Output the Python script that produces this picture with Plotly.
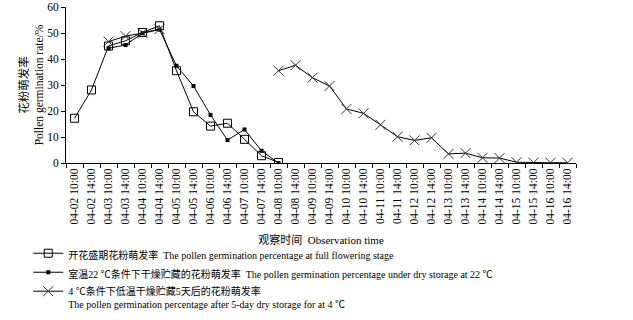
import plotly.graph_objects as go

categories = [
    "04-02 10:00", "04-02 14:00", "04-03 10:00", "04-03 14:00", "04-04 10:00", "04-04 14:00",
    "04-05 10:00", "04-05 14:00", "04-06 10:00", "04-06 14:00", "04-07 10:00", "04-07 14:00",
    "04-08 10:00", "04-08 14:00", "04-09 10:00", "04-09 14:00", "04-10 10:00", "04-10 14:00",
    "04-11 10:00", "04-11 14:00", "04-12 10:00", "04-12 14:00", "04-13 10:00", "04-13 14:00",
    "04-14 10:00", "04-14 14:00", "04-15 10:00", "04-15 14:00", "04-16 10:00", "04-16 14:00",
]

full_flowering = [17.2, 28.1, 45.0, 47.0, 50.2, 52.8, 35.5, 19.7, 14.2, 15.3, 9.1, 2.8, 0.2,
                  None, None, None, None, None, None, None, None, None, None, None, None, None, None, None, None, None]

dry_22c = [None, None, 44.1, 45.4, 49.9, 51.3, 37.4, 29.6, 18.5, 8.8, 12.9, 4.7, 0.0,
           None, None, None, None, None, None, None, None, None, None, None, None, None, None, None, None, None]

dry_4c = [None, None, 46.7, 48.8, 50.0, 51.5, None, None, None, None, None, None,
          35.5, 37.6, 32.8, 29.6, 20.8, 19.1, 14.7, 10.1, 8.7, 9.7, 3.5, 3.8, 2.0, 1.9, 0.3, 0.1, 0.1, 0.1]

y_ticks = [0, 10, 20, 30, 40, 50, 60]

names = [
    "开花盛期花粉萌发率  The pollen germination percentage at full flowering stage",
    "室温22 ℃条件下干燥贮藏的花粉萌发率  The pollen germination percentage under dry storage at 22 ℃",
    "4 ℃条件下低温干燥贮藏5天后的花粉萌发率<br>The pollen germination percentage after 5-day dry storage for at 4 ℃",
]

FONT = "Liberation Serif, Noto Sans CJK SC, serif"

fig = go.Figure()
fig.add_trace(go.Scatter(
    x=categories, y=full_flowering, name=names[0], mode="lines+markers",
    line=dict(color="black", width=1),
    marker=dict(symbol="square-open", size=8, color="black", line=dict(width=1, color="black")),
    connectgaps=False,
))
fig.add_trace(go.Scatter(
    x=categories, y=dry_22c, name=names[1], mode="lines+markers",
    line=dict(color="black", width=1),
    marker=dict(symbol="square", size=4, color="black"),
    connectgaps=False,
))
fig.add_trace(go.Scatter(
    x=categories, y=dry_4c, name=names[2], mode="lines+markers",
    line=dict(color="black", width=1),
    marker=dict(symbol="x-thin-open", size=10, color="#333", line=dict(width=1, color="#333")),
    connectgaps=False,
))

fig.update_layout(
    width=633, height=320,
    margin=dict(l=66, r=57, t=7, b=157, autoexpand=False),
    paper_bgcolor="white", plot_bgcolor="white",
    font=dict(family=FONT, size=11, color="black"),
    showlegend=True,
    legend=dict(
        x=-0.074, y=-0.495, xanchor="left", yanchor="top",
        orientation="v", font=dict(size=10, family=FONT),
        itemwidth=30, tracegroupgap=0, bgcolor="rgba(0,0,0,0)",
        valign="top",
    ),
)

fig.update_xaxes(
    type="category", categoryorder="array", categoryarray=categories,
    range=[-0.5, 29.5], tickson="boundaries", automargin=False,
    ticks="outside", ticklen=4, tickcolor="black",
    showline=True, linecolor="black", linewidth=1,
    showgrid=False, zeroline=False,
    tickangle=-90, tickfont=dict(size=11.5, family=FONT),
    title=dict(text="观察时间  Observation time", font=dict(size=11, family=FONT), standoff=12),
)

fig.update_yaxes(
    range=[0, 60], tickvals=y_ticks, automargin=False,
    ticks="outside", ticklen=4, tickcolor="black",
    showline=True, linecolor="black", linewidth=1,
    showgrid=False, zeroline=False,
    tickfont=dict(size=11.5, family=FONT),
    title=dict(text="花粉萌发率<br>Pollen germination rate/%", font=dict(size=11.5, family=FONT), standoff=1),
)

fig.write_html("out.html", config={"displayModeBar": False},
               post_script="document.body.style.margin='0';")
